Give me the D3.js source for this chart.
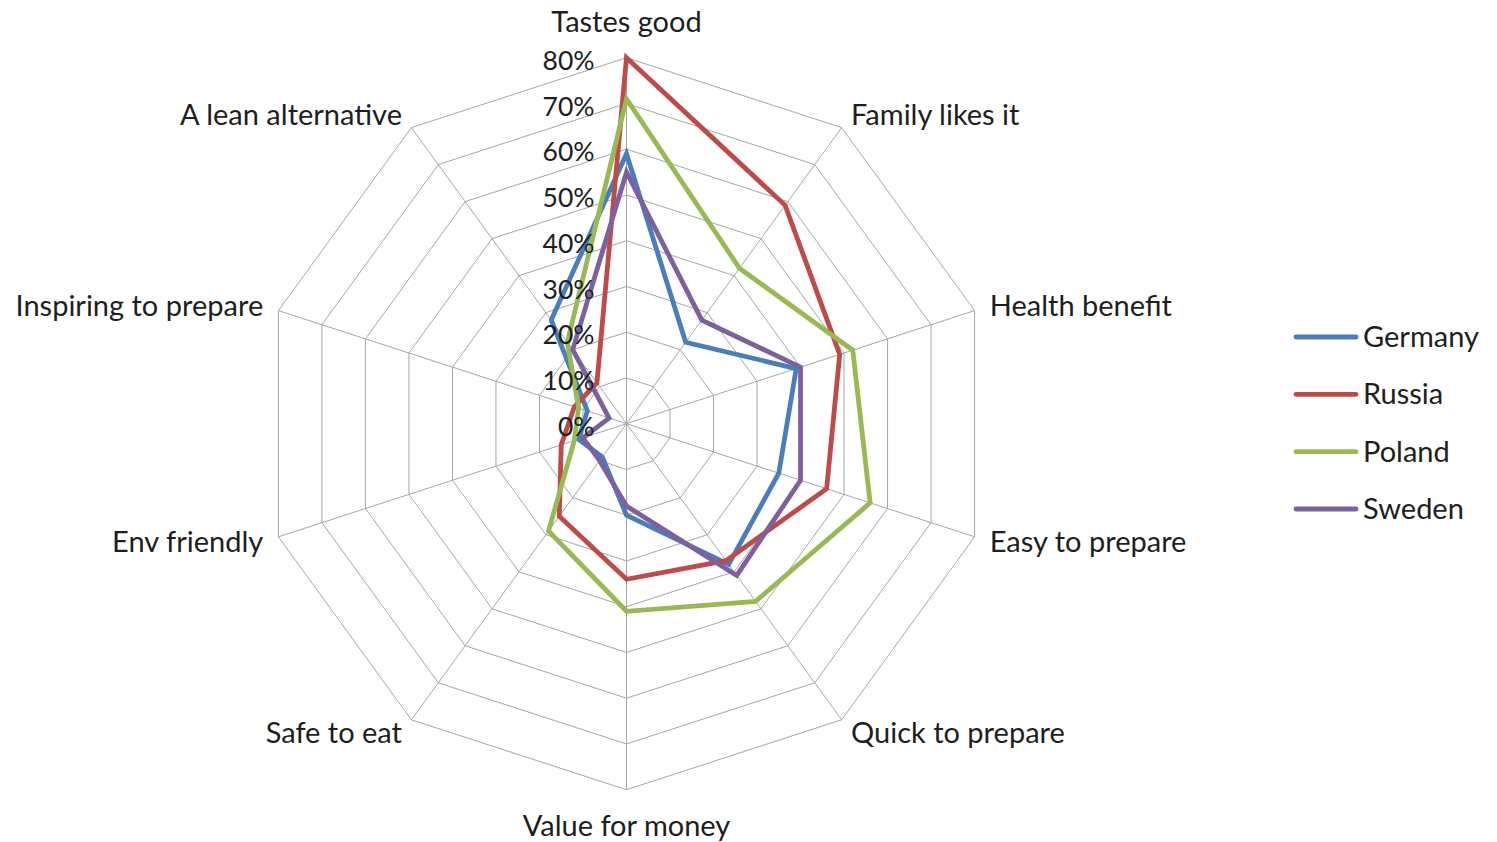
<!DOCTYPE html>
<html>
<head>
<meta charset="utf-8">
<script src="https://cdn.jsdelivr.net/npm/d3@7"></script>
<style>
    body { margin: 0; background: #ffffff; }
    svg { display: block; }
    text { font-family: Lato, "Open Sans", sans-serif; fill: #1e1e1e; }
</style>
</head>
<body>
<div id="radar"></div>
<script>
const categories = ['Tastes good', 'Family likes it', 'Health benefit', 'Easy to prepare',
    'Quick to prepare', 'Value for money', 'Safe to eat', 'Env friendly',
    'Inspiring to prepare', 'A lean alternative'];

const germany = [59, 22, 39, 35, 38, 20, 9, 11, 9, 28];
const russia = [80, 59, 49, 46, 37, 34, 25, 15, 12, 11];
const poland = [71, 42, 52, 56, 48, 41, 29, 12, 11, 22];
const sweden = [55, 28, 40, 40, 41, 18, 10, 10, 4, 20];

const series_names = ['Germany', 'Russia', 'Poland', 'Sweden'];
const tick_values = [0, 10, 20, 30, 40, 50, 60, 70, 80];

function draw_radar() {
    let dims = {
        width: 1497,
        height: 842,
        cx: 626.5,
        cy: 423.7,
        radius: 366,
    };

    let svg = d3.select('#radar')
        .append('svg')
        .attr('width', dims.width)
        .attr('height', dims.height);

    let series = new Map();
    series.set('Germany', germany);
    series.set('Russia', russia);
    series.set('Poland', poland);
    series.set('Sweden', sweden);

    const colors = d3.scaleOrdinal()
        .domain(series_names)
        .range(['#4a7ebb', '#be4b48', '#98b954', '#7d60a0']);

    // angle goes clockwise starting at the top
    const angle = d3.scalePoint()
        .domain(categories)
        .range([0, 2 * Math.PI * (categories.length - 1) / categories.length]);

    const r = d3.scaleLinear()
        .domain([0, 80])
        .range([0, dims.radius]);

    let g = svg.append('g')
        .attr('transform', `translate(${dims.cx}, ${dims.cy})`);

    const radial = d3.lineRadial()
        .angle((d) => angle(d.category))
        .radius((d) => r(d.value))
        .curve(d3.curveLinearClosed);

    // grid rings, one decagon per tick above zero
    g.selectAll('.ring')
        .data(tick_values.filter((t) => t > 0))
        .join('path')
            .attr('class', 'ring')
            .attr('fill', 'none')
            .attr('stroke', '#a6a6a6')
            .attr('stroke-width', 1)
            .attr('d', (t) => radial(categories.map((c) => ({category: c, value: t}))));

    // spokes
    g.selectAll('.spoke')
        .data(categories)
        .join('line')
            .attr('class', 'spoke')
            .attr('stroke', '#a6a6a6')
            .attr('stroke-width', 1)
            .attr('x1', 0)
            .attr('y1', 0)
            .attr('x2', (c) => Math.sin(angle(c)) * r(80))
            .attr('y2', (c) => -Math.cos(angle(c)) * r(80));

    // series polygons
    g.selectAll('.series')
        .data(series)
        .join('path')
            .attr('class', 'series')
            .attr('fill', 'none')
            .attr('stroke', (d) => colors(d[0]))
            .attr('stroke-width', 4.8)
            .attr('stroke-linejoin', 'miter')
            .attr('d', (d) => radial(d[1].map((v, i) => ({category: categories[i], value: v}))));

    // tick labels along the top spoke
    g.selectAll('.tick-label')
        .data(tick_values)
        .join('text')
            .attr('class', 'tick-label')
            .attr('text-anchor', 'end')
            .attr('x', -32)
            .attr('y', (t) => -r(t) + 3)
            .attr('dy', '0.35em')
            .style('font-size', '26.5px')
            .text((t) => `${t}%`);

    // category labels outside the outer ring
    const pad = 16;
    g.selectAll('.cat-label')
        .data(categories)
        .join('text')
            .attr('class', 'cat-label')
            .style('font-size', '29px')
            .attr('text-anchor', function(c) {
                let s = Math.sin(angle(c));
                if (Math.abs(s) < 0.01) {
                    return 'middle';
                }
                return s > 0 ? 'start' : 'end';
            })
            .attr('x', (c) => Math.sin(angle(c)) * (r(80) + pad))
            .attr('y', function(c) {
                let cos = Math.cos(angle(c));
                let extra = Math.abs(Math.sin(angle(c))) < 0.01 ? 20 : 0;
                return -cos * (r(80) + pad + extra);
            })
            .attr('dy', '0.35em')
            .text((c) => c);

    // legend
    const legend_y = d3.scalePoint()
        .domain(series_names)
        .range([337, 509]);

    let legend = svg.append('g');
    legend.selectAll('line')
        .data(series_names)
        .join('line')
            .attr('x1', 1296)
            .attr('x2', 1356)
            .attr('y1', (d) => legend_y(d))
            .attr('y2', (d) => legend_y(d))
            .attr('stroke', (d) => colors(d))
            .attr('stroke-width', 4.8)
            .attr('stroke-linecap', 'round');
    legend.selectAll('text')
        .data(series_names)
        .join('text')
            .attr('x', 1363)
            .attr('y', (d) => legend_y(d))
            .attr('dy', '0.35em')
            .style('font-size', '29px')
            .text((d) => d);
}

draw_radar();
</script>
</body>
</html>
